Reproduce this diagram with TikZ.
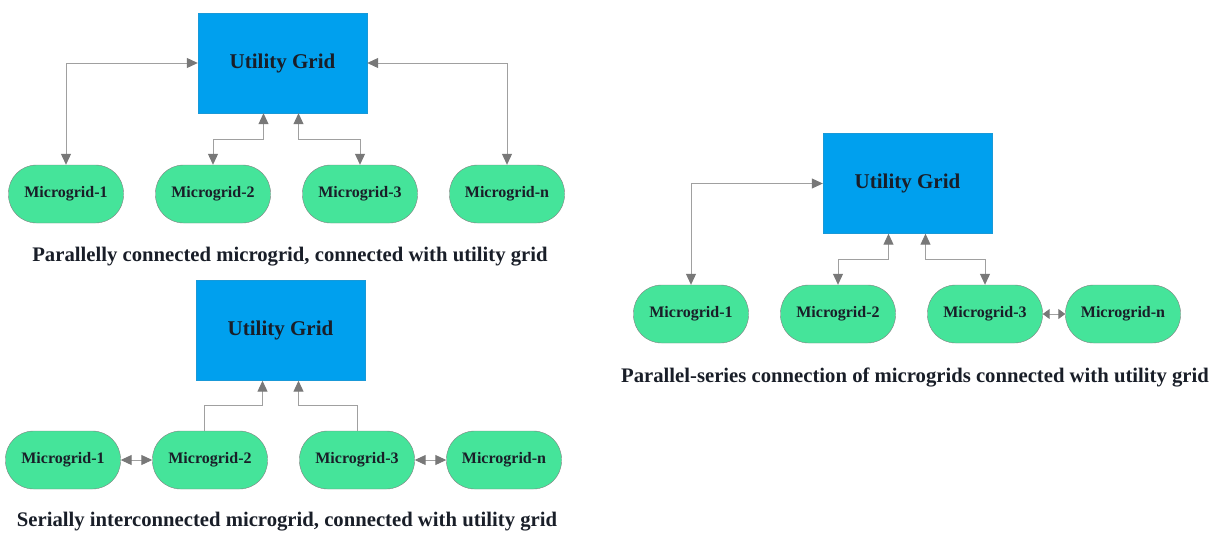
\documentclass[tikz,border=0pt]{standalone}
\usepackage{fontspec}
\setmainfont{Liberation Serif}
\usepackage{xcolor}
\usetikzlibrary{positioning,arrows.meta}

\definecolor{gridblue}{RGB}{0,160,238}
\definecolor{mgreen}{RGB}{69,228,154}
\definecolor{linegray}{RGB}{160,160,160}
\definecolor{tipgray}{RGB}{120,120,120}
\definecolor{inkdark}{RGB}{25,30,40}

\tikzset{
  utilbox/.style = {rectangle, draw=gridblue!80!gray, fill=gridblue, minimum width=169pt, minimum height=100pt, font=\fontsize{21}{24}\selectfont\bfseries, text=inkdark},
  mgrid/.style = {rectangle, rounded corners=28pt, draw=gray, fill=mgreen, minimum width=115pt, minimum height=58pt, font=\fontsize{16}{19}\selectfont\bfseries, text=inkdark},
  link/.style = {draw=linegray, line width=1pt, >={Triangle[length=11pt,width=10pt,color=tipgray]}},
  shortlink/.style = {draw=linegray, line width=1pt, >={Triangle[length=7pt,width=10pt,color=tipgray]}},
  caption/.style = {font=\fontsize{20.7}{24}\selectfont\bfseries, text=inkdark}
}

\begin{document}
\begin{tikzpicture}[x=1pt, y=-1pt, node distance = 147pt]
  \useasboundingbox (0,0) rectangle (1218,533);

  % parallel
  \node (gridA) [utilbox] at (282.5,63) {Utility Grid};
  \node (a1) [mgrid] at (66,194) {Microgrid-1};
  \node (a2) [mgrid, right of = a1] {Microgrid-2};
  \node (a3) [mgrid, right of = a2] {Microgrid-3};
  \node (a4) [mgrid, right of = a3] {Microgrid-n};
  \node (capA) [caption] at (290,257) {Parallelly connected microgrid, connected with utility grid};

  \draw[link, <->] (a1) |- (gridA);
  \draw[link, <->] (a2.north) -- ++(0,-25) -| ([xshift=-19pt]gridA.south);
  \draw[link, <->] (a3.north) -- ++(0,-25) -| ([xshift=16pt]gridA.south);
  \draw[link, <->] (a4) |- (gridA);

  % serial
  \node (gridB) [utilbox] at (280.5,330.5) {Utility Grid};
  \node (b1) [mgrid] at (63,460) {Microgrid-1};
  \node (b2) [mgrid, right of = b1] {Microgrid-2};
  \node (b3) [mgrid, right of = b2] {Microgrid-3};
  \node (b4) [mgrid, right of = b3] {Microgrid-n};
  \node (capB) [caption] at (287,522) {Serially interconnected microgrid, connected with utility grid};

  \draw[link, <->] (b1) -- (b2);
  \draw[link, <->] (b3) -- (b4);
  \draw[link, ->] ([xshift=-6pt]b2.north) -- ++(0,-25) -| ([xshift=-18pt]gridB.south);
  \draw[link, ->] (b3.north) -- ++(0,-25) -| ([xshift=18pt]gridB.south);

  % parallel-series
  \node (gridC) [utilbox] at (907.5,183.5) {Utility Grid};
  \node (c1) [mgrid] at (691,314) {Microgrid-1};
  \node (c2) [mgrid, right of = c1] {Microgrid-2};
  \node (c3) [mgrid, right of = c2] {Microgrid-3};
  \node (c4) [mgrid, right of = c3, node distance = 138pt] {Microgrid-n};
  \node (capC) [caption] at (915,377) {Parallel-series connection of microgrids connected with utility grid};

  \draw[link, <->] (c1) |- (gridC);
  \draw[link, <->] (c2.north) -- ++(0,-25) -| ([xshift=-19pt]gridC.south);
  \draw[link, <->] (c3.north) -- ++(0,-25) -| ([xshift=18pt]gridC.south);
  \draw[shortlink, <->] (c3) -- (c4);
\end{tikzpicture}
\end{document}
